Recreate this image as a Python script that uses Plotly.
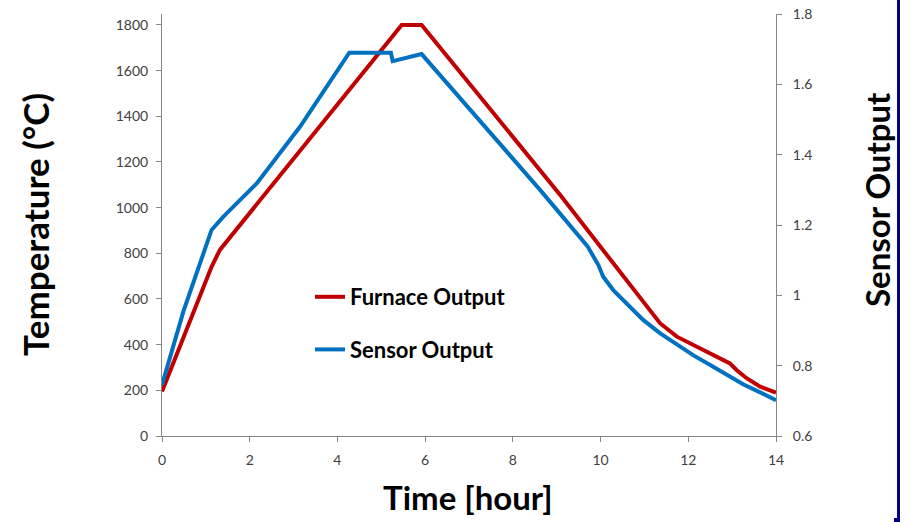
import plotly.graph_objects as go

# Furnace temperature profile (left axis, °C)
furnace_hours = [0, 0.49, 1.13, 1.32, 2.0, 4.0, 5.465, 5.92, 9.08, 11.355,
                 11.74, 12.11, 12.5, 12.8, 12.95, 13.1, 13.33, 13.64, 14.0]
furnace_temp = [195, 432, 741, 815, 978, 1452, 1800, 1800, 1055, 494,
                435, 398, 362, 333, 318, 289, 253, 216, 190]

# Sensor response (right axis)
sensor_hours = [0, 0.49, 1.13, 1.4, 2.16, 3.15, 4.27, 5.22, 5.26, 5.92, 8.62,
                9.08, 9.7, 9.95, 10.06, 10.29, 10.6, 10.97, 11.36, 11.74, 12.11,
                12.5, 12.88, 13.25, 13.64, 14.0]
sensor_output = [0.745, 0.955, 1.186, 1.224, 1.318, 1.48, 1.690, 1.690, 1.666,
                 1.686, 1.300, 1.230, 1.140, 1.086, 1.053, 1.015, 0.977, 0.930,
                 0.892, 0.859, 0.830, 0.802, 0.773, 0.747, 0.724, 0.702]

x_ticks = [0, 2, 4, 6, 8, 10, 12, 14]
temp_ticks = [0, 200, 400, 600, 800, 1000, 1200, 1400, 1600, 1800]
sensor_ticks = [0.6, 0.8, 1.0, 1.2, 1.4, 1.6, 1.8]

W, H = 909, 522
L, R, T, B = 162, 133, 14, 86
PW, PH = W - L - R, H - T - B


def px_x(px):
    return (px - L) / PW


def px_y(py):
    return (H - B - py) / PH


FONT = "Lato"
AXIS_GREY = "#868686"
TICK_FONT = dict(family=FONT, size=14, color="#404040")

fig = go.Figure()
fig.add_trace(go.Scatter(
    x=furnace_hours, y=furnace_temp, mode="lines", name="Furnace Output",
    line=dict(color="#C00000", width=4), legendgroup="f", yaxis="y"))
fig.add_trace(go.Scatter(
    x=sensor_hours, y=sensor_output, mode="lines", name="Sensor Output",
    line=dict(color="#0070C0", width=4), legendgroup="s", yaxis="y2"))

axis_common = dict(
    showline=True, linecolor=AXIS_GREY, linewidth=1, showgrid=False,
    zeroline=False, ticks="outside", ticklen=5, tickcolor=AXIS_GREY,
    tickfont=TICK_FONT,
)

fig.update_layout(
    width=W, height=H, autosize=False,
    margin=dict(l=L, r=R, t=T, b=B, autoexpand=False),
    paper_bgcolor="white", plot_bgcolor="white",
    xaxis=dict(range=[0, 14], tickvals=x_ticks, ticklabelstandoff=6,
               **axis_common),
    yaxis=dict(range=[0, 1848], tickvals=temp_ticks, ticklabelstandoff=5,
               **axis_common),
    yaxis2=dict(range=[0.6, 1.8], tickvals=sensor_ticks, overlaying="y",
                side="right", ticklabelstandoff=8, **axis_common),
    showlegend=True,
    legend=dict(
        x=px_x(310), y=px_y(276), xanchor="left", yanchor="top",
        font=dict(family=FONT, size=22, color="black", weight="bold"),
        bgcolor="rgba(0,0,0,0)", tracegroupgap=21, traceorder="grouped",
    ),
)

title_font = dict(family=FONT, size=33, color="black", weight="bold")
fig.add_annotation(text="Time [hour]", xref="paper", yref="paper",
                   x=px_x(468), y=px_y(497), xanchor="center",
                   yanchor="middle", showarrow=False, font=title_font)
fig.add_annotation(text="Temperature (°C)", xref="paper", yref="paper",
                   x=px_x(35), y=px_y(225), xanchor="center",
                   yanchor="middle", textangle=-90, showarrow=False,
                   font=dict(title_font, size=35))
fig.add_annotation(text="Sensor Output", xref="paper", yref="paper",
                   x=px_x(877), y=px_y(200), xanchor="center",
                   yanchor="middle", textangle=-90, showarrow=False,
                   font=title_font)

# Navy frame edge on the right of the slide
NAVY = "#000080"
fig.add_shape(type="rect", xref="paper", yref="paper",
              x0=px_x(897), x1=px_x(900), y0=px_y(522), y1=px_y(0),
              fillcolor=NAVY, line=dict(width=0), layer="above")
fig.add_shape(type="rect", xref="paper", yref="paper",
              x0=px_x(894), x1=px_x(900), y0=px_y(522), y1=px_y(518),
              fillcolor=NAVY, line=dict(width=0), layer="above")

fig.write_html("out.html")
